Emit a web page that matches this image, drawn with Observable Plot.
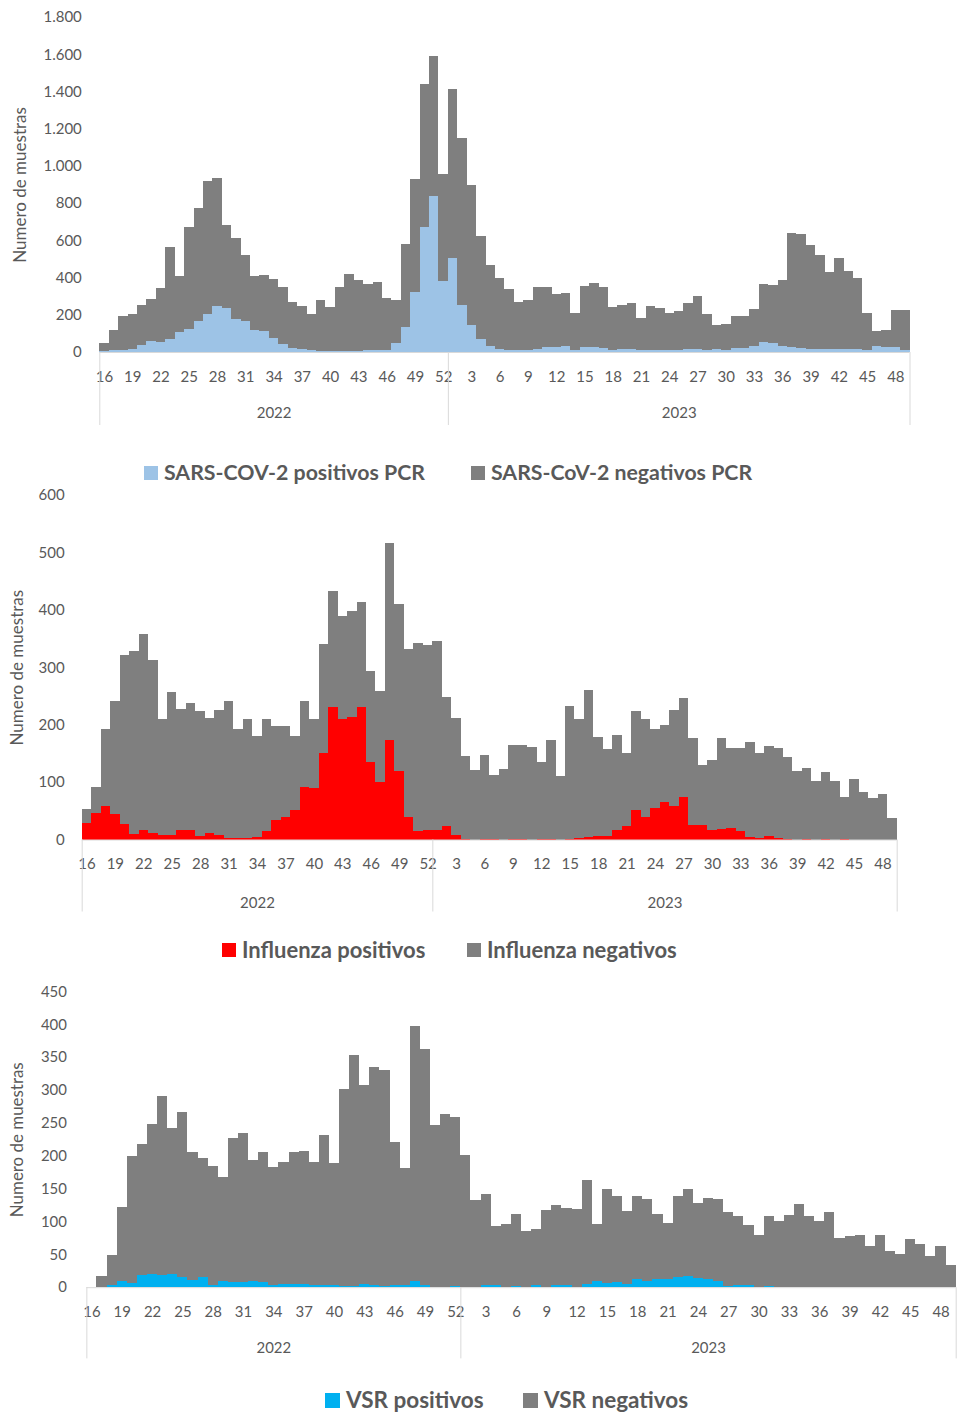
<!DOCTYPE html>
<html><head><meta charset="utf-8">
<script src="https://cdn.jsdelivr.net/npm/d3@7"></script>
<script src="https://cdn.jsdelivr.net/npm/@observablehq/plot@0.6"></script>
<style>
html,body{margin:0;padding:0;background:#fff;overflow:hidden;width:957px;height:1413px;}
#root{position:relative;width:957px;height:1413px;overflow:hidden;}
.panel{position:absolute;left:0;}
.legend{position:absolute;display:flex;align-items:center;font-family:Lato,sans-serif;font-weight:700;color:#595959;white-space:nowrap;line-height:1;}
.sw{display:inline-block;margin-right:6px;}
</style></head><body><div id="root"></div>
<script>
// Categories: epidemiological weeks 2022 (16–52) and 2023 (1–49)
const weeks2022 = d3.range(16, 53);
const weeks2023 = d3.range(1, 50);
const weekLabels = [...weeks2022, ...weeks2023];
const years = ["2022", "2023"];
const yTitle = "Numero de muestras";

// SARS-CoV-2 PCR
const covidPos = [5,9,12,18,36,59,54,71,107,125,166,205,248,234,179,166,120,112,77,45,21,18,9,5,4,4,4,4,9,9,12,48,134,321,670,839,384,
  507,254,147,70,32,14,12,9,11,16,29,27,30,12,27,29,23,12,18,18,12,11,11,11,12,16,14,12,14,11,20,21,34,55,48,32,29,23,18,16,16,16,14,16,12,32,27,27,11];
const covidNeg = [45,109,180,187,218,227,291,491,302,545,607,715,686,446,433,357,289,300,314,303,245,230,196,275,237,344,416,384,357,366,277,229,446,611,770,751,575,
  907,896,753,553,434,384,329,261,269,334,319,282,288,199,327,342,325,229,234,245,172,237,223,198,208,247,288,193,131,137,171,174,196,311,311,356,612,611,559,507,414,489,420,382,199,81,89,200,212];

// Influenza
const fluPos = [28,46,59,44,27,9,16,12,7,7,17,17,6,12,8,2,2,3,5,15,34,39,52,92,90,151,231,209,214,231,135,100,174,119,39,15,17,
  16,24,8,1,0,1,1,0,1,1,0,1,1,0,1,2,5,6,6,16,23,52,39,54,66,59,74,26,26,17,19,20,15,5,3,6,3,1,0,1,0,1,0,1,0,0,0,0,0];
const fluNeg = [25,46,133,198,295,319,342,300,203,250,210,220,218,200,218,240,191,207,176,194,164,159,128,149,119,189,201,181,184,182,158,159,342,291,293,328,321,
  329,224,204,144,121,147,111,122,163,164,161,134,172,110,231,208,256,173,151,166,128,172,171,139,134,166,173,151,104,122,158,140,145,164,148,157,157,143,119,123,102,117,102,73,105,83,72,80,38];

// VSR
const vsrPos = [0,0,3,10,7,19,20,19,20,16,11,16,4,10,8,8,10,8,4,5,5,5,3,3,4,2,2,5,3,2,3,3,10,3,1,1,2,
  1,1,4,4,1,2,1,3,1,4,4,1,5,9,7,8,5,13,9,13,12,15,17,14,12,10,2,4,3,1,2,0,0,0,0,0,0,0,0,0,0,0,0,0,0,0,0,0,0];
const vsrNeg = [0,17,46,112,193,199,228,272,222,251,195,180,181,157,219,226,184,198,179,186,201,202,188,229,185,300,351,302,332,329,218,178,387,359,246,263,257,
  200,132,138,89,95,109,85,85,117,121,117,118,158,87,143,130,111,126,125,99,85,123,133,114,124,124,112,104,92,78,107,101,110,126,109,101,115,75,78,79,63,79,55,51,74,66,47,63,33];

const gray = "#7f7f7f";
const axisGray = "#d9d9d9";
const textGray = "#595959";
const esFormat = d3.formatLocale({decimal: ",", thousands: ".", grouping: [3], currency: ["", "€"]}).format(",d");

const n = weekLabels.length;
const tickIdx = d3.range(0, n, 3);
const split = weeks2022.length; // index of first 2023 week

function panel(cfg) {
  const rows = cfg.pos.map((p, i) => ({i, pos: p, neg: cfg.neg[i]}));
  return Plot.plot({
    width: cfg.width, height: cfg.height,
    marginLeft: cfg.left, marginRight: cfg.width - cfg.right,
    marginTop: cfg.top, marginBottom: cfg.height - cfg.bottom,
    style: {fontFamily: "Lato, sans-serif", fontSize: "15px", color: textGray, background: "transparent", overflow: "visible"},
    x: {domain: [-0.5, n - 0.5], axis: null},
    y: {domain: [0, cfg.ymax], axis: null},
    marks: [
      Plot.rect(rows, {x1: d => d.i - 0.5, x2: d => d.i + 0.5, y1: 0, y2: "pos", fill: cfg.posColor, shapeRendering: "crispEdges"}),
      Plot.rect(rows, {x1: d => d.i - 0.5, x2: d => d.i + 0.5, y1: "pos", y2: d => d.pos + d.neg, fill: gray, shapeRendering: "crispEdges"}),
      Plot.ruleY([0], {stroke: axisGray}),
      Plot.axisY({ticks: cfg.yticks, tickSize: 0, tickPadding: cfg.ypad, tickFormat: esFormat, label: null}),
      Plot.axisX({ticks: tickIdx, tickFormat: i => String(weekLabels[i]), tickSize: 0, tickPadding: cfg.xpad, label: null}),
      Plot.axisX({ticks: [-0.5, split - 0.5, n - 0.5], tickFormat: () => "", tickSize: cfg.divLen, stroke: axisGray, label: null}),
      Plot.axisX({ticks: [(split - 1) / 2, split + (n - split - 1) / 2], tickFormat: v => v < split ? years[0] : years[1], tickSize: 0, tickPadding: cfg.yearPad, label: null}),
      Plot.text([yTitle], {text: d => d, frameAnchor: "left", textAnchor: "middle", rotate: -90, dx: cfg.titleDx, fontSize: 17, fill: textGray})
    ]
  });
}

function legend(items, top, size, fontSize) {
  const frag = [];
  for (const it of items) {
    const div = document.createElement("div");
    div.className = "legend";
    div.style.left = it.x + "px";
    div.style.top = (top - 15) + "px";
    div.style.height = "30px";
    div.style.fontSize = fontSize + "px";
    const sw = document.createElement("span");
    sw.className = "sw";
    sw.style.width = size + "px"; sw.style.height = size + "px";
    sw.style.background = it.color;
    div.appendChild(sw);
    div.appendChild(document.createTextNode(it.label));
    frag.push(div);
  }
  return frag;
}

const root = document.getElementById("root");
function place(el, top) { el.classList.add("panel"); el.style.top = top + "px"; root.appendChild(el); }

place(panel({width: 957, height: 440, left: 99.3, right: 909.5, top: 17, bottom: 352,
  ymax: 1800, yticks: d3.range(0, 1801, 200), ypad: 18, xpad: 18.5, yearPad: 54.5, divLen: 73, titleDx: -79,
  pos: covidPos, neg: covidNeg, posColor: "#9dc3e6"}), 0);
legend([{x: 144, color: "#9dc3e6", label: "SARS-COV-2 positivos PCR"}, {x: 471, color: gray, label: "SARS-CoV-2 negativos PCR"}], 473, 14, 21.3)
  .forEach(d => root.appendChild(d));

place(panel({width: 957, height: 450, left: 81.7, right: 896.7, top: 15, bottom: 359.5,
  ymax: 600, yticks: d3.range(0, 601, 100), ypad: 17.5, xpad: 18, yearPad: 57, divLen: 72, titleDx: -65,
  pos: fluPos, neg: fluNeg, posColor: "#ff0000"}), 480);
legend([{x: 222, color: "#ff0000", label: "Influenza positivos"}, {x: 467, color: gray, label: "Influenza negativos"}], 950, 14, 22)
  .forEach(d => root.appendChild(d));

place(panel({width: 961, height: 400, left: 86.7, right: 959.7, top: 21.5, bottom: 318.5,
  ymax: 450, yticks: d3.range(0, 451, 50), ypad: 20, xpad: 18.5, yearPad: 54.5, divLen: 71.5, titleDx: -70,
  pos: vsrPos, neg: vsrNeg, posColor: "#00b0f0"}), 970);
legend([{x: 325, color: "#00b0f0", label: "VSR positivos"}, {x: 523, color: gray, label: "VSR negativos"}], 1400, 15, 22.5)
  .forEach(d => root.appendChild(d));
</script></body></html>
